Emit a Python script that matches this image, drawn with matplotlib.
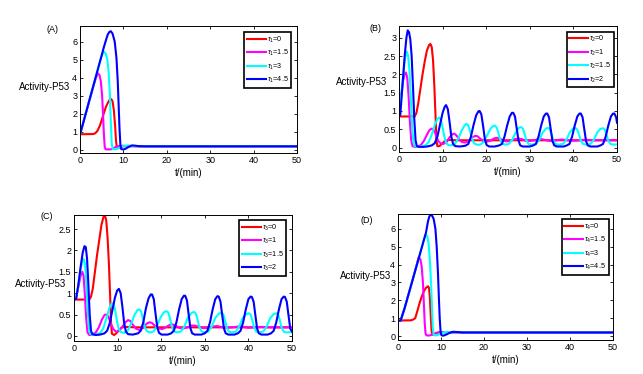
import matplotlib
matplotlib.use("Agg")
import matplotlib.pyplot as plt

plt.rcParams['font.family'] = ['Liberation Sans', 'DejaVu Sans']
plt.rcParams['mathtext.fontset'] = 'custom'
plt.rcParams['mathtext.rm'] = 'Liberation Sans'
plt.rcParams['mathtext.it'] = 'Liberation Sans:italic'

COLORS = ['#ff0000', '#ff00ff', '#00ffff', '#0000ff']

# ---------------- Panel A (tau1) ----------------
A_labels = [r'$\tau_1$=0', r'$\tau_1$=1.5', r'$\tau_1$=3', r'$\tau_1$=4.5']
A_red_t = [0, 3.0, 3.5, 4.0, 4.5, 5.0, 5.5, 6.0, 6.5, 6.9, 7.2, 7.5, 7.8, 8.1, 8.3, 8.5, 8.8, 9.3, 10, 11, 12, 14, 50]
A_red_y = [0.87, 0.88, 0.92, 1.05, 1.3, 1.65, 2.05, 2.4, 2.65, 2.8, 2.82, 2.7, 2.2, 1.3, 0.5, 0.12, 0.1, 0.15, 0.2, 0.22, 0.22, 0.2, 0.2]
A_mag_t = [0, 1, 2, 3, 3.6, 4.1, 4.5, 4.8, 5.1, 5.3, 5.5, 5.7, 5.9, 6.5, 7.3, 7.8, 8.3, 9, 10, 11, 12, 50]
A_mag_y = [0.85, 1.73, 2.61, 3.45, 3.95, 4.25, 4.15, 3.8, 3.0, 2.0, 0.9, 0.15, 0.04, 0.03, 0.04, 0.1, 0.18, 0.22, 0.23, 0.21, 0.2, 0.2]
A_cyan_t = [0, 1, 2, 3, 4, 4.6, 5.0, 5.5, 5.9, 6.3, 6.6, 6.9, 7.1, 7.3, 7.5, 8.0, 8.6, 9.3, 10, 11, 12, 13, 50]
A_cyan_y = [0.85, 1.73, 2.61, 3.49, 4.37, 4.9, 5.22, 5.45, 5.35, 5.0, 4.3, 3.0, 1.6, 0.4, 0.06, 0.03, 0.07, 0.15, 0.22, 0.24, 0.22, 0.2, 0.2]
A_blue_t = [0, 1, 2, 3, 4, 5, 5.5, 6.0, 6.4, 6.8, 7.1, 7.5, 8.0, 8.4, 8.7, 8.9, 9.1, 9.3, 9.5, 10, 10.6, 11.3, 12, 12.6, 13.5, 15, 50]
A_blue_y = [0.85, 1.73, 2.61, 3.49, 4.37, 5.25, 5.7, 6.1, 6.4, 6.55, 6.58, 6.45, 6.0, 5.1, 3.8, 2.5, 1.2, 0.3, 0.05, 0.02, 0.08, 0.18, 0.25, 0.24, 0.21, 0.2, 0.2]

# ---------------- Panel B (tau2) ----------------
B_labels = [r'$\tau_2$=0', r'$\tau_2$=1', r'$\tau_2$=1.5', r'$\tau_2$=2']
B_red_t = [0, 3.6, 4.0, 4.4, 4.9, 5.4, 5.9, 6.4, 6.9, 7.2, 7.5, 7.8, 8.1, 8.4, 8.6, 8.8, 9.3, 9.8, 10.5, 11.5, 13, 50]
B_red_y = [0.85, 0.85, 0.95, 1.2, 1.6, 2.0, 2.35, 2.65, 2.8, 2.83, 2.75, 2.4, 1.7, 0.8, 0.2, 0.04, 0.04, 0.1, 0.18, 0.21, 0.2, 0.2]
B_mag_t = [0, 0.4, 0.9, 1.3, 1.6, 1.9, 2.2, 2.5, 2.8, 3.1, 3.6, 4.3, 5.0, 5.7, 6.4, 7.0, 7.5, 8.0, 8.5, 9.0, 9.6, 10.2,
           10.9, 11.6, 12.3, 12.7, 13.2, 13.8, 14.5, 15.2, 16.0, 16.8, 17.5, 18.0, 18.6, 19.3, 20.1, 21.0, 21.8, 22.5,
           23.1, 23.8, 24.6, 25.5, 26.5, 27.4, 28.2, 29.0, 30.0, 31.0, 32.0, 32.8, 33.7, 34.8, 36.0, 37.2, 38.2, 39.3,
           40.5, 42, 43.5, 45, 47, 50]
B_mag_y = [0.85, 1.3, 1.8, 2.02, 2.05, 1.9, 1.4, 0.7, 0.2, 0.04, 0.02, 0.03, 0.07, 0.18, 0.35, 0.48, 0.52, 0.48, 0.33, 0.18, 0.11, 0.1,
           0.15, 0.28, 0.37, 0.38, 0.33, 0.22, 0.15, 0.14, 0.18, 0.28, 0.32, 0.31, 0.25, 0.18, 0.16, 0.19, 0.25, 0.27,
           0.25, 0.2, 0.17, 0.18, 0.23, 0.25, 0.23, 0.19, 0.18, 0.2, 0.23, 0.23, 0.2, 0.18, 0.2, 0.22, 0.21, 0.19,
           0.19, 0.21, 0.21, 0.2, 0.2, 0.2]
B_cyan_t = [0, 0.4, 0.9, 1.4, 1.8, 2.1, 2.4, 2.7, 3.0, 3.3, 3.6, 4.2, 5, 6, 6.8, 7.5, 8.2, 8.8, 9.2, 9.6, 10.0, 10.4, 10.8,
            11.3, 12, 12.8, 13.6, 14.4, 15.1, 15.5, 15.9, 16.3, 16.7, 17.2, 17.8, 18.6, 19.4, 20.2, 21.0, 21.6, 22.0,
            22.4, 22.8, 23.2, 23.7, 24.4, 25.2, 26.0, 26.8, 27.5, 28.0, 28.4, 28.8, 29.2, 29.7, 30.5, 31.4, 32.2,
            33.0, 33.7, 34.2, 34.6, 35.0, 35.4, 35.9, 36.7, 37.6, 38.4, 39.2, 39.9, 40.5, 40.9, 41.3, 41.7, 42.2,
            43.0, 43.9, 44.7, 45.5, 46.2, 46.8, 47.2, 47.6, 48.0, 48.5, 49.3, 50]
B_cyan_y = [0.85, 1.3, 1.9, 2.45, 2.62, 2.5, 2.1, 1.4, 0.6, 0.15, 0.04, 0.02, 0.03, 0.06, 0.15, 0.35, 0.62, 0.78, 0.82, 0.76, 0.55, 0.3, 0.13,
            0.07, 0.06, 0.1, 0.25, 0.47, 0.62, 0.65, 0.6, 0.45, 0.25, 0.12, 0.08, 0.08, 0.15, 0.33, 0.52, 0.59, 0.6,
            0.55, 0.4, 0.22, 0.11, 0.08, 0.1, 0.22, 0.42, 0.54, 0.56, 0.52, 0.38, 0.2, 0.1, 0.08, 0.1, 0.22,
            0.42, 0.52, 0.54, 0.5, 0.36, 0.19, 0.1, 0.08, 0.1, 0.22, 0.42, 0.52, 0.53, 0.49, 0.35, 0.19, 0.1,
            0.08, 0.1, 0.22, 0.42, 0.51, 0.53, 0.49, 0.35, 0.19, 0.1, 0.08, 0.09]
B_blue_t = [0, 0.3, 0.8, 1.3, 1.7, 2.0, 2.3, 2.6, 2.9, 3.2, 3.5, 3.8, 4.1, 4.6, 5.5, 6.5, 7.5, 8.2, 8.8, 9.4, 10.0, 10.5,
            10.8, 11.2, 11.6, 12.0, 12.4, 12.9, 14, 15.2, 15.9, 16.5, 17.1, 17.7, 18.2, 18.5, 18.9, 19.3, 19.7, 20.1,
            20.7, 22, 23.0, 23.6, 24.2, 24.8, 25.4, 25.9, 26.2, 26.6, 27.0, 27.4, 27.8, 28.4, 30, 30.8, 31.4, 32.0,
            32.6, 33.2, 33.7, 34.0, 34.4, 34.8, 35.2, 35.6, 36.2, 37.8, 38.5, 39.1, 39.7, 40.3, 40.9, 41.4, 41.7,
            42.1, 42.5, 42.9, 43.3, 43.9, 45.5, 46.2, 46.8, 47.4, 48.0, 48.6, 49.1, 49.4, 49.8, 50]
B_blue_y = [0.85, 0.9, 1.7, 2.5, 3.0, 3.2, 3.15, 2.95, 2.5, 1.7, 0.8, 0.2, 0.04, 0.02, 0.02, 0.03, 0.06, 0.12, 0.3, 0.62, 0.95, 1.12,
            1.16, 1.05, 0.7, 0.3, 0.1, 0.04, 0.03, 0.05, 0.1, 0.3, 0.62, 0.88, 0.99, 1.0, 0.9, 0.58, 0.22, 0.07,
            0.03, 0.03, 0.06, 0.1, 0.3, 0.6, 0.85, 0.95, 0.95, 0.85, 0.52, 0.2, 0.06, 0.03, 0.03, 0.06, 0.1, 0.3,
            0.6, 0.85, 0.93, 0.93, 0.83, 0.5, 0.18, 0.06, 0.03, 0.03, 0.06, 0.1, 0.3, 0.6, 0.85, 0.93, 0.93,
            0.83, 0.5, 0.18, 0.06, 0.03, 0.03, 0.06, 0.1, 0.3, 0.6, 0.85, 0.93, 0.93, 0.83, 0.68]

# ---------------- Panel C (tau3) ----------------
C_labels = [r'$\tau_3$=0', r'$\tau_3$=1', r'$\tau_3$=1.5', r'$\tau_3$=2']
C_red_t = [0, 3.5, 3.9, 4.3, 4.8, 5.3, 5.8, 6.3, 6.8, 7.1, 7.4, 7.7, 8.0, 8.3, 8.5, 8.7, 9.2, 9.7, 10.3, 11, 12, 14, 50]
C_red_y = [0.85, 0.85, 0.92, 1.1, 1.5, 1.9, 2.25, 2.6, 2.8, 2.82, 2.7, 2.3, 1.7, 0.9, 0.3, 0.05, 0.02, 0.06, 0.14, 0.2, 0.21, 0.2, 0.2]
C_mag_t = [0, 0.5, 1.0, 1.5, 1.9, 2.2, 2.5, 2.8, 3.1, 3.5, 4.2, 5.0, 5.7, 6.4, 7.0, 7.4, 7.9, 8.4, 9.0, 9.6, 10.3, 11.0,
           11.8, 12.4, 12.9, 13.5, 14.2, 15.0, 15.8, 16.6, 17.3, 17.9, 18.6, 19.4, 20.3, 21.2, 22.0, 22.6, 23.3, 24.1,
           25.0, 26.0, 27.0, 27.8, 28.7, 29.7, 30.8, 31.9, 32.9, 34.0, 35.2, 36.5, 37.7, 38.8, 40, 41.5, 43, 45, 47, 50]
C_mag_y = [0.85, 0.9, 1.15, 1.4, 1.5, 1.4, 0.95, 0.4, 0.08, 0.02, 0.03, 0.08, 0.2, 0.38, 0.49, 0.5, 0.45, 0.3, 0.16, 0.1, 0.11, 0.2,
           0.32, 0.37, 0.35, 0.26, 0.17, 0.14, 0.18, 0.28, 0.32, 0.3, 0.23, 0.17, 0.16, 0.21, 0.26, 0.27, 0.24, 0.19,
           0.17, 0.2, 0.24, 0.24, 0.21, 0.18, 0.19, 0.22, 0.23, 0.2, 0.19, 0.2, 0.22, 0.21, 0.19, 0.2, 0.21, 0.2, 0.2, 0.2]
C_cyan_t = [0, 0.5, 1.0, 1.5, 1.9, 2.2, 2.5, 2.8, 3.1, 3.4, 3.7, 4.2, 5, 6, 6.7, 7.4, 8.1, 8.6, 9.0, 9.4, 9.8, 10.2, 10.7,
            11.5, 12.3, 13.1, 13.9, 14.6, 15.0, 15.4, 15.8, 16.2, 16.7, 17.4, 18.2, 19.0, 19.8, 20.6, 21.2, 21.6, 22.0,
            22.4, 22.9, 23.6, 24.5, 25.3, 26.1, 26.9, 27.5, 27.9, 28.3, 28.7, 29.2, 29.9, 30.8, 31.6, 32.4, 33.2,
            33.8, 34.2, 34.6, 35.0, 35.5, 36.2, 37.1, 37.9, 38.7, 39.5, 40.1, 40.5, 40.9, 41.3, 41.8, 42.5, 43.4,
            44.2, 45.0, 45.8, 46.4, 46.8, 47.2, 47.6, 48.1, 48.8, 50]
C_cyan_y = [0.85, 0.9, 1.2, 1.55, 1.75, 1.8, 1.7, 1.3, 0.7, 0.2, 0.05, 0.02, 0.03, 0.07, 0.17, 0.4, 0.65, 0.76, 0.76, 0.62, 0.38, 0.18, 0.09,
            0.07, 0.12, 0.28, 0.5, 0.61, 0.62, 0.57, 0.4, 0.21, 0.11, 0.08, 0.1, 0.22, 0.42, 0.55, 0.58, 0.55, 0.42,
            0.23, 0.11, 0.08, 0.1, 0.22, 0.42, 0.53, 0.56, 0.53, 0.4, 0.22, 0.11, 0.08, 0.1, 0.22, 0.42, 0.52,
            0.54, 0.51, 0.38, 0.21, 0.1, 0.08, 0.1, 0.22, 0.42, 0.51, 0.53, 0.5, 0.37, 0.2, 0.1, 0.08, 0.1,
            0.22, 0.42, 0.51, 0.53, 0.5, 0.37, 0.2, 0.1, 0.08, 0.09]
C_blue_t = [0, 0.5, 1.0, 1.5, 2.0, 2.4, 2.7, 3.0, 3.3, 3.6, 3.9, 4.2, 5, 6, 7, 7.6, 8.2, 8.8, 9.4, 9.9, 10.3, 10.7, 11.1,
            11.5, 11.9, 12.4, 13.5, 14.7, 15.3, 15.9, 16.5, 17.1, 17.6, 17.9, 18.3, 18.7, 19.1, 19.5, 20.1, 21.5,
            22.3, 22.9, 23.5, 24.1, 24.7, 25.2, 25.5, 25.9, 26.3, 26.7, 27.1, 27.7, 29.2, 30.0, 30.6, 31.2, 31.8,
            32.4, 32.9, 33.2, 33.6, 34.0, 34.4, 34.8, 35.4, 36.8, 37.6, 38.2, 38.8, 39.4, 40.0, 40.5, 40.8, 41.2,
            41.6, 42.0, 42.4, 43.0, 44.4, 45.2, 45.8, 46.4, 47.0, 47.6, 48.1, 48.4, 48.8, 49.2, 49.6, 50]
C_blue_y = [0.85, 0.87, 1.2, 1.6, 1.95, 2.1, 2.08, 1.8, 1.2, 0.5, 0.12, 0.04, 0.02, 0.03, 0.06, 0.12, 0.3, 0.6, 0.9, 1.06, 1.1, 1.0, 0.68,
            0.3, 0.1, 0.04, 0.03, 0.06, 0.12, 0.32, 0.65, 0.88, 0.97, 0.97, 0.86, 0.52, 0.2, 0.07, 0.03, 0.03,
            0.06, 0.12, 0.32, 0.62, 0.86, 0.94, 0.94, 0.83, 0.5, 0.18, 0.06, 0.03, 0.03, 0.06, 0.12, 0.32, 0.62,
            0.86, 0.93, 0.92, 0.8, 0.48, 0.17, 0.06, 0.03, 0.03, 0.06, 0.12, 0.32, 0.62, 0.86, 0.92, 0.91, 0.8,
            0.48, 0.17, 0.06, 0.03, 0.03, 0.06, 0.12, 0.32, 0.62, 0.86, 0.92, 0.91, 0.8, 0.48, 0.17, 0.1]

# ---------------- Panel D (tau4) ----------------
D_labels = [r'$\tau_4$=0', r'$\tau_4$=1.5', r'$\tau_4$=3', r'$\tau_4$=4.5']
D_red_t = [0, 3.0, 3.5, 4.0, 4.5, 5.0, 5.5, 6.0, 6.5, 7.0, 7.2, 7.4, 7.6, 7.8, 8.0, 8.3, 8.8, 9.5, 10.5, 12, 14, 50]
D_red_y = [0.87, 0.88, 0.92, 1.0, 1.4, 1.83, 2.2, 2.5, 2.7, 2.79, 2.7, 2.2, 1.2, 0.3, 0.08, 0.1, 0.15, 0.2, 0.23, 0.21, 0.2, 0.2]
D_mag_t = [0, 0.6, 1.5, 2.5, 3.5, 4.3, 4.8, 5.2, 5.5, 5.8, 6.0, 6.2, 6.4, 6.6, 7.3, 7.9, 8.5, 9.2, 10, 11, 12, 50]
D_mag_y = [0.85, 0.86, 1.53, 2.38, 3.23, 3.95, 4.41, 4.3, 3.9, 3.0, 1.9, 0.8, 0.15, 0.04, 0.03, 0.08, 0.15, 0.2, 0.22, 0.21, 0.2, 0.2]
D_cyan_t = [0, 0.6, 1.5, 2.5, 3.5, 4.5, 5.5, 6.0, 6.4, 6.8, 7.1, 7.4, 7.7, 7.9, 8.1, 8.3, 8.7, 9.3, 10, 10.8, 11.5, 12.5, 14, 50]
D_cyan_y = [0.85, 0.86, 1.53, 2.38, 3.23, 4.08, 4.93, 5.4, 5.67, 5.6, 5.2, 4.3, 2.9, 1.6, 0.5, 0.08, 0.03, 0.07, 0.15, 0.22, 0.23, 0.21, 0.2, 0.2]
D_blue_t = [0, 0.6, 1.5, 2.5, 3.5, 4.5, 5.5, 6.5, 7.0, 7.3, 7.6, 7.9, 8.3, 8.7, 9.0, 9.3, 9.5, 9.7, 9.9, 10.1, 10.5, 11.2, 12, 12.8, 13.5, 15, 50]
D_blue_y = [0.85, 0.86, 1.53, 2.38, 3.23, 4.08, 4.93, 5.78, 6.45, 6.7, 6.78, 6.75, 6.55, 6.0, 5.0, 3.5, 2.2, 1.0, 0.25, 0.05, 0.02, 0.08, 0.18, 0.24, 0.23, 0.2, 0.2]

X_TICKS = [0, 10, 20, 30, 40, 50]
A_YTICKS = [0, 1, 2, 3, 4, 5, 6]
B_YTICKS = [0, 0.5, 1, 1.5, 2, 2.5, 3]
C_YTICKS = [0, 0.5, 1, 1.5, 2, 2.5]
D_YTICKS = [0, 1, 2, 3, 4, 5, 6]

W, H = 643, 374
fig = plt.figure(figsize=(W / 100, H / 100), dpi=100)


def px_axes(l, t, r, b):
    return fig.add_axes([l / W, 1 - b / H, (r - l) / W, (b - t) / H])


panels = [
    dict(box=(80, 26, 297, 153), ylim=(-0.17, 6.87), yt=A_YTICKS, tag='(A)', tagpos=(-0.127, 0.974),
         ylab=(-0.164, 0.52), labels=A_labels,
         data=[(A_red_t, A_red_y), (A_mag_t, A_mag_y), (A_cyan_t, A_cyan_y), (A_blue_t, A_blue_y)], leg=(6, 6)),
    dict(box=(399, 26, 617, 152), ylim=(-0.12, 3.32), yt=B_YTICKS, tag='(B)', tagpos=(-0.108, 0.98),
         ylab=(-0.17, 0.558), labels=B_labels,
         data=[(B_red_t, B_red_y), (B_mag_t, B_mag_y), (B_cyan_t, B_cyan_y), (B_blue_t, B_blue_y)], leg=(3.5, 5.5)),
    dict(box=(74, 215, 292, 341), ylim=(-0.12, 2.83), yt=C_YTICKS, tag='(C)', tagpos=(-0.127, 0.99),
         ylab=(-0.153, 0.456), labels=C_labels,
         data=[(C_red_t, C_red_y), (C_mag_t, C_mag_y), (C_cyan_t, C_cyan_y), (C_blue_t, C_blue_y)], leg=(6, 5)),
    dict(box=(398, 214, 613, 340), ylim=(-0.22, 6.83), yt=D_YTICKS, tag='(D)', tagpos=(-0.147, 0.948),
         ylab=(-0.15, 0.505), labels=D_labels,
         data=[(D_red_t, D_red_y), (D_mag_t, D_mag_y), (D_cyan_t, D_cyan_y), (D_blue_t, D_blue_y)], leg=(4.5, 5)),
]

FS = 6.5
for p in panels:
    l, t, r, b = p['box']
    ax = px_axes(l, t, r, b)
    for (tt, yy), c, lab in zip(p['data'], COLORS, p['labels']):
        ax.plot(tt, yy, color=c, lw=1.5, label=lab)
    ax.set_xlim(0, 50)
    ax.set_ylim(*p['ylim'])
    ax.set_xticks(X_TICKS)
    ax.set_yticks(p['yt'])
    ax.set_yticklabels([('%g' % v) for v in p['yt']])
    ax.tick_params(direction='in', length=2.5, width=0.6, labelsize=FS, top=True, right=True, pad=2)
    for s in ax.spines.values():
        s.set_linewidth(0.7)
    ax.set_xlabel('t/(min)', fontsize=FS + 0.5, labelpad=2)
    ax.text(p['ylab'][0], p['ylab'][1], 'Activity-P53', transform=ax.transAxes, ha='center', va='center',
            fontsize=FS + 0.5)
    ax.text(p['tagpos'][0], p['tagpos'][1], p['tag'], transform=ax.transAxes, ha='center', va='center',
            fontsize=FS)
    aw, ah = r - l, b - t
    dx, dy = p['leg']
    leg = ax.legend(loc='upper right', bbox_to_anchor=(1 - dx / aw, 1 - dy / ah), borderaxespad=0,
                    fontsize=5.2, frameon=True, fancybox=False, handlelength=2.6, handletextpad=0.15,
                    labelspacing=0.45, borderpad=0.35)
    fr = leg.get_frame()
    fr.set_edgecolor('black')
    fr.set_linewidth(1.2)
    fr.set_alpha(1)

fig.savefig('out.png', dpi=100)
